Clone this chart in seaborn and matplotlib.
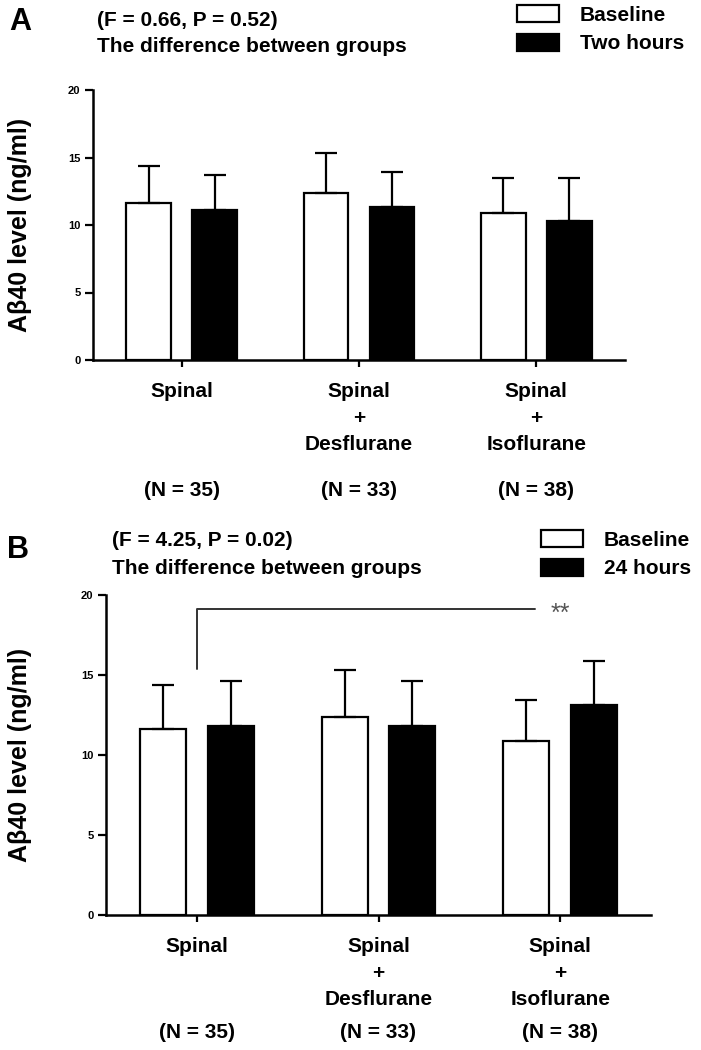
import pandas as pd
import seaborn as sns
import matplotlib.pyplot as plt
from matplotlib.transforms import blended_transform_factory

# values (ng/ml, mean and SD)
groups = ["Spinal", "Spinal\n+\nDesflurane", "Spinal\n+\nIsoflurane"]
group_n = ["(N = 35)", "(N = 33)", "(N = 38)"]

baseline_mean = [11.6, 12.4, 10.9]
baseline_sd = [2.75, 2.9, 2.55]

two_hours_mean = [11.1, 11.3, 10.3]
two_hours_sd = [2.6, 2.65, 3.15]

day_mean = [11.8, 11.8, 13.1]
day_sd = [2.85, 2.85, 2.8]

panel_stats = ["(F = 0.66, P = 0.52)", "(F = 4.25, P = 0.02)"]
later_labels = ["Two hours", "24 hours"]

W, H = 701, 1050


def px(x, y):
    return x / W, 1 - y / H


def draw_panel(fig, rect, means, sds, later_label, ylabel_x):
    ax = fig.add_axes(rect)
    df = pd.DataFrame(
        {
            "group": groups * 2,
            "time": ["Baseline"] * 3 + [later_label] * 3,
            "value": means[0] + means[1],
        }
    )
    sns.barplot(
        data=df,
        x="group",
        y="value",
        hue="time",
        palette={"Baseline": "white", later_label: "black"},
        edgecolor="black",
        linewidth=1.6,
        errorbar=None,
        width=0.745,
        gap=0.32,
        ax=ax,
    )
    # one-sided SD bars on top of each bar
    for container, sd in zip(ax.containers, sds):
        xs = [b.get_x() + b.get_width() / 2 for b in container]
        ys = [b.get_height() for b in container]
        ax.errorbar(
            xs,
            ys,
            yerr=[[0] * len(sd), sd],
            fmt="none",
            ecolor="black",
            elinewidth=1.6,
            capsize=8,
            capthick=1.6,
            zorder=1,
        )
    ax.set_ylim(0, 20)
    ax.set_xlim(-0.5, 2.5)
    ax.set_yticks([0, 5, 10, 15, 20])
    ax.set_xlabel("")
    ax.set_ylabel("Aβ40 level (ng/ml)", fontsize=18, fontweight="bold")
    ax.yaxis.set_label_coords(ylabel_x, 0.5)
    ax.set_xticks(range(3))
    ax.set_xticklabels(groups, fontsize=15, fontweight="bold", linespacing=1.5)
    ax.tick_params(axis="y", length=6, width=1.6, labelsize=8, pad=3)
    ax.tick_params(axis="x", length=5, width=1.6, pad=11)
    for lab in ax.get_yticklabels():
        lab.set_fontweight("bold")
    for side in ["left", "bottom"]:
        ax.spines[side].set_linewidth(1.8)
    sns.despine(ax=ax)
    return ax


sns.set_theme(style="ticks", rc={
    "text.color": "black",
    "axes.labelcolor": "black",
    "axes.edgecolor": "black",
    "xtick.color": "black",
    "ytick.color": "black",
})
plt.rcParams["font.family"] = ["Liberation Sans", "DejaVu Sans"]

fig = plt.figure(figsize=(W / 100, H / 100), dpi=100)

# panel A
ax_a = draw_panel(
    fig,
    [93 / W, 1 - 360 / H, 532 / W, 270 / H],
    [baseline_mean, two_hours_mean],
    [baseline_sd, two_hours_sd],
    later_labels[0],
    -0.115,
)
# panel B
ax_b = draw_panel(
    fig,
    [106 / W, 1 - 915 / H, 545 / W, 320 / H],
    [baseline_mean, day_mean],
    [baseline_sd, day_sd],
    later_labels[1],
    -0.136,
)

# group sizes under the category labels
for ax, ypos in [(ax_a, -0.485), (ax_b, -0.366)]:
    trans = blended_transform_factory(ax.transData, ax.transAxes)
    for i, n in enumerate(group_n):
        ax.text(i, ypos, n, transform=trans, ha="center", va="center",
                fontsize=15, fontweight="bold")

# significance bracket in panel B
ax_b.plot([0, 0, 1.86], [15.35, 19.1, 19.1], color="#333333", lw=1.4,
          clip_on=False)
ax_b.text(2.0, 18.85, "**", ha="center", va="center", fontsize=18,
          color="#555555")

# legends
for ax, anchor in [(ax_a, px(517, 5)), (ax_b, px(541, 530))]:
    sns.move_legend(
        ax,
        "upper left",
        bbox_to_anchor=anchor,
        bbox_transform=fig.transFigure,
        frameon=False,
        title=None,
        prop={"size": 15, "weight": "bold"},
        handlelength=2.0,
        handleheight=0.85,
        handletextpad=1.0,
        labelspacing=0.45,
        borderpad=0,
        borderaxespad=0,
    )

# panel letters and stats
fig.text(*px(9, 22), "A", fontsize=22, fontweight="bold", va="center")
fig.text(*px(97, 20), panel_stats[0], fontsize=15, fontweight="bold", va="center")
fig.text(*px(97, 47), "The difference between groups", fontsize=15,
         fontweight="bold", va="center")
fig.text(*px(7, 550), "B", fontsize=22, fontweight="bold", va="center")
fig.text(*px(112, 541), panel_stats[1], fontsize=15, fontweight="bold", va="center")
fig.text(*px(112, 569), "The difference between groups", fontsize=15,
         fontweight="bold", va="center")

fig.savefig("out.png", dpi=100)
plt.close(fig)
